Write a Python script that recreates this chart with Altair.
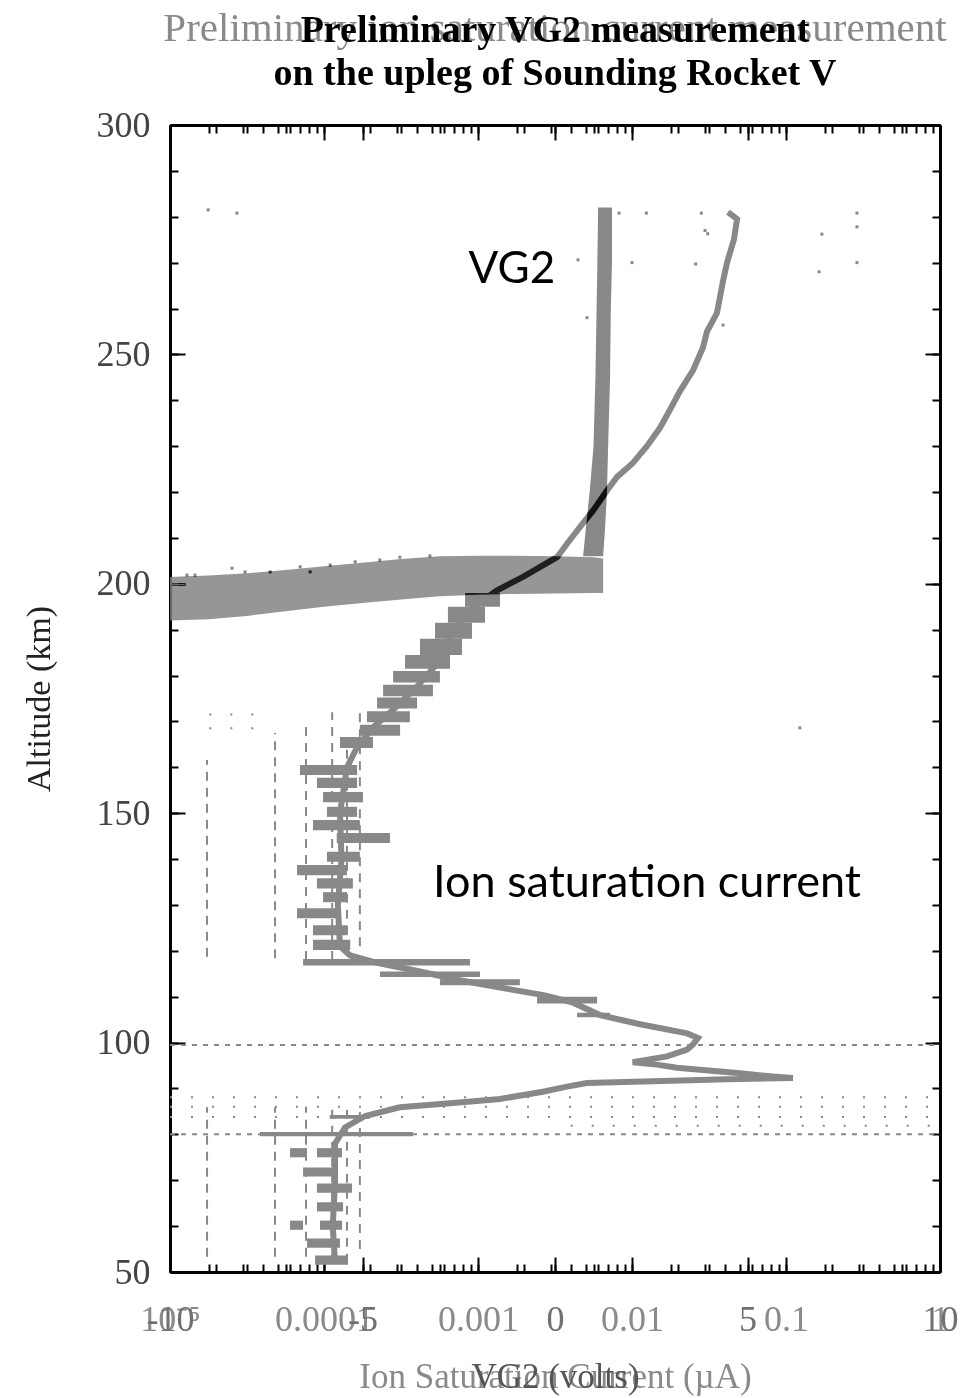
import altair as alt
import pandas as pd

SERIF = "Liberation Serif"
ION_GRAY = "#888888"

# ---------------- Ion saturation current (log x axis, µA) ----------------
TRACE_ALT = [281.0, 279.5, 275.0, 270.0, 266.0, 259.0, 255.0, 251.5, 246.5, 242.0,
             238.0, 234.0, 230.0, 226.3, 223.3, 220.4, 216.0, 212.4, 209.0, 205.8,
             201.5, 198.6, 194.9, 190.0, 183.4, 177.5, 172.5, 168.8, 164.4, 160.0,
             150.0, 140.0, 130.0, 121.0, 119.0, 117.4, 115.5, 113.6, 112.0, 110.3,
             108.7, 106.0, 104.0, 102.0, 101.0, 99.6, 98.5, 97.0, 95.7, 95.2,
             94.5, 93.3, 92.6, 92.3, 92.0, 91.5, 91.2, 90.4, 89.3, 87.7,
             86.8, 85.9, 84.0, 81.5, 78.0, 70.0, 60.0, 52.0]
TRACE_CUR = [0.0420, 0.0481, 0.0459, 0.0414, 0.0390, 0.0356, 0.0307, 0.0289, 0.0249, 0.0205,
             0.0177, 0.0152, 0.0125, 0.0101, 0.0080, 0.0069, 0.0056, 0.0046, 0.00384, 0.00326,
             0.00196, 0.00133, 0.00093, 0.00069, 0.00057, 0.00040, 0.00028, 0.00021, 0.000164, 0.000141,
             0.000127, 0.000130, 0.000123, 0.000127, 0.000148, 0.000221, 0.00042, 0.00076, 0.00139, 0.00272,
             0.00414, 0.0062, 0.0113, 0.0228, 0.0268, 0.0249, 0.0228, 0.0169, 0.0101, 0.0145,
             0.0196, 0.0503, 0.0824, 0.111, 0.0414, 0.0118, 0.0051, 0.00378, 0.00264, 0.00139,
             0.00066, 0.00031, 0.000185, 0.000137, 0.000118, 0.000118, 0.000114, 0.000118]

# horizontal jitter bars of the current trace
BAR_ALT_LO = [195.0, 191.5, 188.0, 184.5, 181.5, 178.5, 175.5, 172.8, 169.8, 166.9,
              164.2, 158.3, 155.5, 152.4, 149.2, 146.3, 143.5, 139.4, 136.5, 133.6,
              130.6, 127.1, 123.4, 120.2, 116.8, 114.3, 112.5, 108.5, 105.5, 83.4,
              79.6, 75.0, 75.0, 70.8, 67.3, 63.2, 59.2, 59.2, 55.3, 51.6]
BAR_ALT_HI = [198.0, 195.0, 191.5, 188.0, 184.5, 181.0, 178.0, 175.2, 172.2, 169.3,
              166.6, 160.5, 157.7, 154.6, 151.4, 148.5, 145.7, 141.6, 138.7, 135.8,
              132.8, 129.3, 125.6, 122.4, 118.2, 115.5, 113.8, 110.0, 106.5, 84.2,
              80.5, 77.0, 77.0, 72.8, 69.3, 65.2, 61.2, 61.2, 57.3, 53.6]
BAR_CUR_LO = [8.24e-4, 6.38e-4, 5.26e-4, 4.2e-4, 3.36e-4, 2.81e-4, 2.42e-4, 2.21e-4, 1.90e-4, 1.71e-4,
              1.27e-4, 6.98e-5, 9.0e-5, 9.86e-5, 1.045e-4, 8.48e-5, 1.21e-4, 1.045e-4, 6.68e-5, 9.0e-5,
              9.86e-5, 6.68e-5, 8.48e-5, 8.48e-5, 7.31e-5, 2.31e-4, 5.66e-4, 2.42e-3, 4.4e-3, 1.09e-4,
              3.84e-5, 6.02e-5, 9.0e-5, 7.31e-5, 9.0e-5, 9.0e-5, 6.02e-5, 9.42e-5, 7.76e-5, 8.75e-5]
BAR_CUR_HI = [1.39e-3, 1.11e-3, 9.14e-4, 7.87e-4, 6.58e-4, 5.66e-4, 5.1e-4, 4.02e-4, 3.61e-4, 3.12e-4,
              2.08e-4, 1.64e-4, 1.64e-4, 1.79e-4, 1.64e-4, 1.71e-4, 2.68e-4, 1.71e-4, 1.41e-4, 1.54e-4,
              1.41e-4, 1.27e-4, 1.41e-4, 1.48e-4, 8.87e-4, 1.03e-3, 1.87e-3, 5.93e-3, 7.2e-3, 1.99e-4,
              3.78e-4, 7.76e-5, 1.31e-4, 1.21e-4, 1.52e-4, 1.33e-4, 7.31e-5, 1.31e-4, 1.27e-4, 1.43e-4]

# dashed vertical columns (quantisation levels)
COL_CUR = [1.74e-5, 4.81e-5, 7.64e-5, 1.13e-4, 1.41e-4, 1.71e-4,
           1.74e-5, 4.81e-5, 7.64e-5, 1.13e-4, 1.41e-4, 1.71e-4]
COL_ALT_LO = [118.7, 118.4, 118.0, 118.0, 120.0, 121.0, 53.3, 53.3, 53.3, 52.0, 52.0, 55.0]
COL_ALT_HI = [161.6, 167.5, 170.0, 172.0, 165.0, 172.0, 85.9, 85.9, 86.0, 86.0, 86.0, 86.0]

# dotted horizontal noise rows
ROW_ALT = [171.5, 168.5, 99.5, 88.1, 86.0, 83.8, 81.9, 80.0]
ROW_CUR_LO = [1.8e-5, 1.8e-5, 1e-5, 1e-5, 1e-5, 1e-5, 4e-3, 1e-5]
ROW_CUR_HI = [4.5e-5, 4.5e-5, 1.0, 1.0, 1.0, 1.0, 1.0, 1.0]
ROW_KIND = ["sparse", "sparse", "dense", "sparse", "sparse", "sparse", "sparse", "dense"]

# isolated noise points
NOISE_ALT = [281.5, 280.8, 280.8, 280.8, 280.8, 280.8, 277.8, 276.2, 270.0,
             268.0, 270.6, 270.0, 269.7, 277.0, 276.3, 256.4, 258.0, 168.6]
NOISE_CUR = [1.77e-5, 2.72e-5, 8.24e-3, 0.0124, 0.0282, 0.289, 0.289, 0.171, 0.289,
             0.164, 4.46e-3, 0.0100, 0.0259, 0.0298, 0.031, 0.039, 0.0051, 0.123]

# ---------------- VG2 (linear x axis, volts) ----------------
BAND_ALT = [206.0, 212.0, 220.0, 230.0, 245.0, 260.0, 270.0, 282.0]
BAND_V_LO = [0.73, 0.80, 0.90, 1.00, 1.05, 1.08, 1.10, 1.12]
BAND_V_HI = [1.25, 1.30, 1.35, 1.38, 1.43, 1.45, 1.48, 1.48]

SMEAR_V = [-10, -9, -8, -7, -6, -5, -4, -3, -2, -1, 0, 1.0, 1.25]
SMEAR_ALT_LO = [192.0, 192.3, 193.0, 194.0, 195.0, 195.8, 196.6, 197.3, 197.6, 197.8, 197.9, 198.0, 198.0]
SMEAR_ALT_HI = [201.5, 201.8, 202.3, 203.0, 203.8, 204.6, 205.4, 206.0, 206.1, 206.1, 206.0, 205.8, 205.5]

VNOISE_ALT = [201.9, 201.9, 203.4, 202.6, 202.6, 203.7, 202.6, 204.1, 204.8, 205.2, 205.8, 206.1]
VNOISE_V = [-9.56, -9.35, -8.39, -8.05, -7.40, -6.62, -6.36, -5.84, -5.19, -4.55, -4.03, -3.25]

# annotations
ANNOT_TEXT = ["VG2", "Ion saturation current"]
ANNOT_V = [-1.12, 2.39]
ANNOT_ALT = [265.6, 131.7]

# ticks
ALT_MAJOR = [50, 100, 150, 200, 250, 300]
ALT_MINOR = list(range(50, 301, 10))
ION_MAJOR = [1e-5, 1e-4, 1e-3, 1e-2, 1e-1, 1.0]
ION_LABELS = ["10⁻⁵", "0.0001", "0.001", "0.01", "0.1", "1"]
ION_MINOR = [m * 10.0 ** e for e in range(-5, 0) for m in range(2, 10)]
V_MAJOR = [-10, -5, 0, 5, 10]
V_LABELS = ["-10", "-5", "0", "5", "10"]
V_MINOR = list(range(-10, 11))

MAJ, MIN = 15, 8

ION_SCALE = alt.Scale(type="log", domain=[1e-5, 1], nice=False)
V_SCALE = alt.Scale(domain=[-10, 10], nice=False, zero=False)
ALT_SCALE = alt.Scale(domain=[50, 300], nice=False, zero=False)


def tick_axis(orient, values, size):
    return alt.Axis(orient=orient, values=values, tickSize=size, offset=-size, labels=False,
                    domain=False, ticks=True, tickColor="black", tickWidth=2, title=None,
                    grid=False)


def frame_axis(orient):
    return alt.Axis(orient=orient, labels=False, ticks=False, grid=False, title=None,
                    domain=True, domainColor="black", domainWidth=3)


def label_expr(labels):
    return "[" + ",".join("'" + s + "'" for s in labels) + "]"


ion_label_axis = alt.Axis(
    orient="bottom", values=ION_MAJOR, ticks=False, domain=True, domainColor="black",
    domainWidth=3, grid=False,
    labelExpr=label_expr(ION_LABELS) + "[round(log(datum.value)/LN10)+5]",
    labelFont=SERIF, labelFontSize=36, labelColor="#8a8a8a", labelPadding=30,
    labelFlush=False, labelOverlap=False,
    title="Ion Saturation Current (µA)", titleFont=SERIF, titleFontSize=35,
    titleFontWeight="normal", titleColor="#8a8a8a", titlePadding=22)

v_label_axis = alt.Axis(
    orient="bottom", values=V_MAJOR, ticks=False, domain=False, grid=False,
    labelExpr=label_expr(V_LABELS) + "[round(datum.value/5)+2]",
    labelFont=SERIF, labelFontSize=36, labelColor="#707070", labelPadding=30,
    labelFlush=False, labelOverlap=False,
    title="VG2 (volts)", titleFont=SERIF, titleFontSize=35,
    titleFontWeight="normal", titleColor="#555555", titlePadding=22)

alt_label_axis = alt.Axis(
    orient="left", values=ALT_MAJOR, ticks=False, domain=True, domainColor="black",
    domainWidth=3, grid=False,
    labelFont=SERIF, labelFontSize=36, labelColor="#444444", labelPadding=20,
    labelOverlap=False, labelFlush=False,
    title="Altitude (km)", titleFont=SERIF, titleFontSize=34, titleFontWeight="normal",
    titleColor="#222222", titlePadding=40)

cols = pd.DataFrame({"cur": COL_CUR, "lo": COL_ALT_LO, "hi": COL_ALT_HI})
rows = pd.DataFrame({"alt": ROW_ALT, "lo": ROW_CUR_LO, "hi": ROW_CUR_HI, "kind": ROW_KIND})
bars = pd.DataFrame({"alo": BAR_ALT_LO, "ahi": BAR_ALT_HI, "clo": BAR_CUR_LO, "chi": BAR_CUR_HI})
trace = pd.DataFrame({"idx": list(range(len(TRACE_ALT))), "alt": TRACE_ALT, "cur": TRACE_CUR})
noise = pd.DataFrame({"alt": NOISE_ALT, "cur": NOISE_CUR})
band = pd.DataFrame({"alt": BAND_ALT, "lo": BAND_V_LO, "hi": BAND_V_HI})
smear = pd.DataFrame({"v": SMEAR_V, "lo": SMEAR_ALT_LO, "hi": SMEAR_ALT_HI})
vnoise = pd.DataFrame({"alt": VNOISE_ALT, "v": VNOISE_V})
annot1 = pd.DataFrame({"v": ANNOT_V[:1], "alt": ANNOT_ALT[:1], "t": ANNOT_TEXT[:1]})
annot2 = pd.DataFrame({"v": ANNOT_V[1:], "alt": ANNOT_ALT[1:], "t": ANNOT_TEXT[1:]})

l_cols = alt.Chart(cols).mark_rule(color=ION_GRAY, strokeWidth=2, strokeDash=[9, 7], clip=True).encode(
    x=alt.X("cur:Q", scale=ION_SCALE, axis=ion_label_axis),
    y=alt.Y("lo:Q", scale=ALT_SCALE, axis=alt_label_axis),
    y2="hi:Q")

l_rows = alt.Chart(rows).mark_rule(color=ION_GRAY, strokeWidth=2, clip=True).encode(
    x=alt.X("lo:Q", scale=ION_SCALE, axis=tick_axis("bottom", ION_MAJOR, MAJ)),
    x2="hi:Q",
    y=alt.Y("alt:Q", scale=ALT_SCALE, axis=tick_axis("left", ALT_MAJOR, MAJ)),
    strokeDash=alt.StrokeDash("kind:N", scale=alt.Scale(domain=["dense", "sparse"],
                                                         range=[[5, 6], [2, 19]]), legend=None))

l_bars = alt.Chart(bars).mark_rect(color=ION_GRAY, clip=True).encode(
    x=alt.X("clo:Q", scale=ION_SCALE, axis=tick_axis("bottom", ION_MINOR, MIN)),
    x2="chi:Q",
    y=alt.Y("alo:Q", scale=ALT_SCALE, axis=tick_axis("left", ALT_MINOR, MIN)),
    y2="ahi:Q")

l_trace = alt.Chart(trace).mark_line(color=ION_GRAY, strokeWidth=6, clip=True).encode(
    x=alt.X("cur:Q", scale=ION_SCALE, axis=tick_axis("top", ION_MAJOR, MAJ)),
    y=alt.Y("alt:Q", scale=ALT_SCALE, axis=tick_axis("right", ALT_MAJOR, MAJ)),
    order="idx:Q")

l_noise = alt.Chart(noise).mark_square(color=ION_GRAY, size=9, opacity=1, clip=True).encode(
    x=alt.X("cur:Q", scale=ION_SCALE, axis=tick_axis("top", ION_MINOR, MIN)),
    y=alt.Y("alt:Q", scale=ALT_SCALE, axis=tick_axis("right", ALT_MINOR, MIN)))

l_frame = alt.Chart(noise).mark_square(opacity=0).encode(
    x=alt.X("cur:Q", scale=ION_SCALE, axis=frame_axis("top")),
    y=alt.Y("alt:Q", scale=ALT_SCALE, axis=frame_axis("right")))

l_vnoise = alt.Chart(vnoise).mark_square(color=ION_GRAY, size=9, opacity=1).encode(
    x=alt.X("v:Q", scale=V_SCALE, axis=v_label_axis),
    y=alt.Y("alt:Q", scale=ALT_SCALE, axis=None))

l_band = alt.Chart(band).mark_area(orient="horizontal", color="#777777", blend="difference").encode(
    x=alt.X("lo:Q", scale=V_SCALE, axis=tick_axis("bottom", V_MAJOR, MAJ)),
    x2="hi:Q",
    y=alt.Y("alt:Q", scale=ALT_SCALE, axis=None, sort=None))

l_smear = alt.Chart(smear).mark_area(color="#777777", opacity=0.88, blend="difference").encode(
    x=alt.X("v:Q", scale=V_SCALE, axis=tick_axis("bottom", V_MINOR, MIN)),
    y=alt.Y("lo:Q", scale=ALT_SCALE, axis=None),
    y2="hi:Q")

l_annot1 = alt.Chart(annot1).mark_text(font="Lato", fontSize=44, color="black",
                                       align="center", baseline="alphabetic").encode(
    x=alt.X("v:Q", scale=V_SCALE, axis=tick_axis("top", V_MAJOR, MAJ)),
    y=alt.Y("alt:Q", scale=ALT_SCALE, axis=None),
    text="t:N")

l_annot2 = alt.Chart(annot2).mark_text(font="Lato", fontSize=45, color="black",
                                       align="center", baseline="alphabetic").encode(
    x=alt.X("v:Q", scale=V_SCALE, axis=tick_axis("top", V_MINOR, MIN)),
    y=alt.Y("alt:Q", scale=ALT_SCALE, axis=None),
    text="t:N")

chart = alt.layer(
    l_cols, l_rows, l_bars, l_trace, l_noise, l_frame, l_vnoise, l_band, l_smear, l_annot1, l_annot2
).resolve_scale(
    x="independent"
).resolve_axis(
    x="independent", y="independent"
).properties(
    width=770, height=1147,
    autosize=alt.AutoSizeParams(type="none"),
    padding={"left": 170, "top": 125, "right": 20, "bottom": 126},
    title=alt.TitleParams(
        text="Preliminary ion saturation current measurement",
        subtitle=["Preliminary VG2 measurement", "on the upleg of Sounding Rocket V"],
        font=SERIF, fontSize=41, fontWeight="normal", color="#8a8a8a",
        subtitleFont=SERIF, subtitleFontSize=38, subtitleFontWeight="bold",
        subtitleColor="black", subtitleLineHeight=43, subtitlePadding=-38,
        anchor="middle", offset=13),
).configure_view(
    stroke="black", strokeWidth=3
).configure(background="white")

chart.save("out.html", embed_options={"renderer": "svg", "actions": False})
